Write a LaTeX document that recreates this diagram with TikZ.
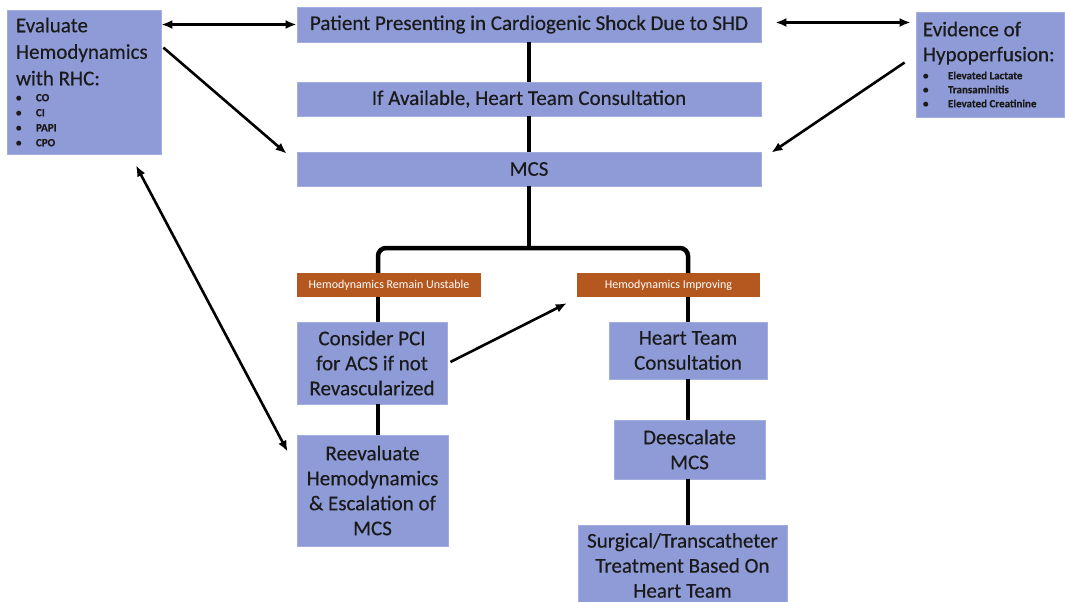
\documentclass[tikz,border=0pt]{standalone}
\usepackage{fontspec}
\setmainfont{Carlito}
\newfontfamily\boxfont{Carlito}[FakeBold=0.35]
\usetikzlibrary{arrows.meta,calc}
\definecolor{boxblue}{HTML}{8F9BD7}
\definecolor{boxedge}{HTML}{A3ADE0}
\definecolor{labelorange}{HTML}{B4581F}
\definecolor{textgray}{HTML}{1A1A1A}
\newcommand{\blt}[1]{\makebox[#1][l]{\textbullet}}
\begin{document}
\begin{tikzpicture}[x=1pt,y=1pt,
  box/.style={fill=boxblue,draw=boxedge,line width=0.8pt,inner sep=0pt,text=textgray,
    font=\boxfont\fontsize{21}{25}\selectfont,align=flush center},
  tag/.style={fill=labelorange,draw=none,inner sep=0pt,text=white,
    font=\fontsize{12}{14}\selectfont,minimum height=24pt},
  conn/.style={line width=4.5pt,black},
  arr/.style={line width=2.6pt,black,-{Latex[length=11pt,width=9pt]}},
  darr/.style={line width=2.6pt,black,{Latex[length=11pt,width=9pt]}-{Latex[length=11pt,width=9pt]}}]
\useasboundingbox (0,0) rectangle (1065,-602);
\fill[white] (0,0) rectangle (1065,-602);
% main column
\node[box,minimum width=464pt,minimum height=35pt] (patient) at (529,-24.5)
  {Patient Presenting in Cardiogenic Shock Due to SHD};
\node[box,minimum width=464pt,minimum height=34pt] (ht1) at (529,-99)
  {If Available, Heart Team Consultation};
\node[box,minimum width=464pt,minimum height=34pt] (mcs) at (529,-169) {MCS};
% side boxes
\node[box,align=flush left,text width=136pt,inner xsep=9pt,minimum height=144pt,anchor=center] (eval) at (84,-82)
  {\fontsize{21}{26.5}\selectfont Evaluate\\Hemodynamics\\with RHC:\par
   \vspace{1pt}\fontsize{11}{15}\selectfont\bfseries
   \blt{20pt}CO\\\blt{20pt}CI\\\blt{20pt}PAPI\\\blt{20pt}CPO\par};
\node[box,align=flush left,text width=134pt,inner xsep=7pt,minimum height=105pt,anchor=center] (evid) at (990,-64.5)
  {\fontsize{21}{25}\selectfont Evidence of\\Hypoperfusion:\par
   \vspace{4pt}\fontsize{11}{14}\selectfont\bfseries
   \blt{25pt}Elevated Lactate\\\blt{25pt}Transaminitis\\\blt{25pt}Elevated Creatinine\par};
% branch labels
\node[tag,minimum width=184pt] (unst) at (389,-285) {Hemodynamics Remain Unstable};
\node[tag,minimum width=183pt] (impr) at (668.5,-285) {Hemodynamics Improving};
% left column
\node[box,minimum width=150pt,minimum height=82pt] (pci) at (372,-363)
  {Consider PCI\\for ACS if not\\Revascularized};
\node[box,minimum width=151pt,minimum height=111pt] (reeval) at (372.5,-490.5)
  {Reevaluate\\Hemodynamics\\\& Escalation of\\MCS};
% right column
\node[box,minimum width=158pt,minimum height=57pt] (ht2) at (688,-350.5)
  {Heart Team\\Consultation};
\node[box,minimum width=151pt,minimum height=59pt] (deesc) at (689.5,-449.5)
  {Deescalate\\MCS};
\node[box,minimum width=209pt,minimum height=80pt,anchor=north] (surg) at (682.5,-525)
  {Surgical/Transcatheter\\Treatment Based On\\Heart Team};
% coordinates for the branch
\coordinate (lx) at (378,0);
\coordinate (rx) at (688,0);
\coordinate (split) at (529,-248);
% connectors
\draw[conn] (patient.south) -- (ht1.north);
\draw[conn] (ht1.south) -- (mcs.north);
\draw[conn] (mcs.south) -- (split);
\draw[conn,rounded corners=8pt] (lx |- unst.north) |- (split) -| (rx |- impr.north);
\draw[conn] (lx |- unst.south) -- (lx |- pci.north);
\draw[conn] (lx |- pci.south) -- (lx |- reeval.north);
\draw[conn] (rx |- impr.south) -- (rx |- ht2.north);
\draw[conn] (rx |- ht2.south) -- (rx |- deesc.north);
\draw[conn] (rx |- deesc.south) -- (rx |- surg.north);
% arrows
\draw[darr] (eval.east |- patient.west) -- (patient.west);
\draw[arr] ($(eval.north east)+(2,-38)$) -- ($(mcs.north west)+(-10,-2)$);
\draw[darr] ($(patient.east)+(14,2)$) -- ($(evid.west |- patient.east)+(-5,2)$);
\draw[arr] ($(evid.west)+(-11,2)$) -- ($(mcs.north east)+(10,-1)$);
\draw[darr] ($(eval.south)+(52,-11)$) -- ($(reeval.north west)+(-9,-17)$);
\draw[arr] ($(pci.east)+(3,1)$) -- ($(impr.south west)+(-10,-6)$);
\end{tikzpicture}
\end{document}
